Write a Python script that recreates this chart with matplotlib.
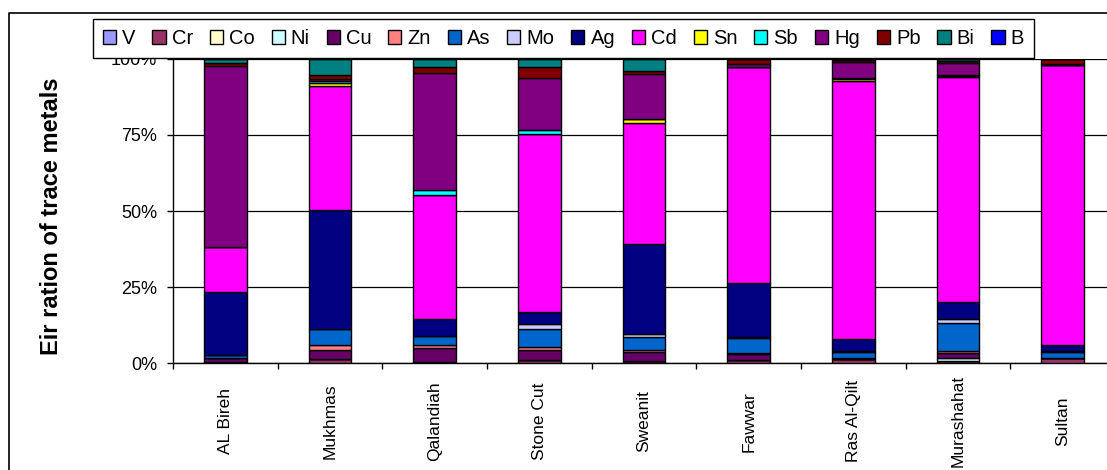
import matplotlib
matplotlib.use("Agg")
import matplotlib.pyplot as plt
from matplotlib.patches import Patch
from matplotlib.lines import Line2D
import numpy as np

plt.rcParams['font.family'] = ['Liberation Sans', 'DejaVu Sans']

sites = ["AL Bireh", "Mukhmas", "Qalandiah", "Stone Cut", "Sweanit",
         "Fawwar", "Ras Al-Qilt", "Murashahat", "Sultan"]

# share of each trace metal per site (%)
V  = [0.0,   0.0,  0.0,  0.0,  0.0,  0.0,  0.0,  0.0,  0.0]
Cr = [0.3,   1.2,  0.4,  1.0,  0.7,  1.0,  1.4,  0.5,  1.5]
Co = [0.0,   0.0,  0.0,  0.0,  0.0,  0.0,  0.0,  0.2,  0.0]
Ni = [0.0,   0.0,  0.0,  0.0,  0.0,  0.0,  0.0,  0.8,  0.0]
Cu = [1.2,   3.1,  4.4,  3.2,  2.8,  1.8,  0.0,  1.9,  0.0]
Zn = [0.2,   1.6,  1.0,  1.2,  0.9,  0.4,  0.3,  0.5,  0.2]
As = [0.9,   5.4,  3.0,  5.9,  4.0,  5.0,  1.9,  9.1,  1.9]
Mo = [0.0,   0.0,  0.0,  1.4,  1.0,  0.5,  0.5,  1.6,  0.5]
Ag = [20.85, 39.0, 5.6,  4.1,  29.8, 17.5, 3.7,  5.4,  1.9]
Cd = [14.6,  40.9, 40.9, 58.5, 39.8, 71.3, 85.1, 74.0, 92.0]
Sn = [0.0,   0.8,  0.0,  0.0,  1.4,  0.0,  0.4,  0.3,  0.0]
Sb = [0.0,   0.9,  1.6,  1.5,  0.0,  0.0,  0.4,  0.4,  0.0]
Hg = [59.65, 0.5,  38.4, 16.9, 14.6, 1.0,  5.4,  4.0,  0.5]
Pb = [0.9,   1.3,  2.2,  3.8,  1.0,  1.5,  0.5,  0.8,  1.5]
Bi = [1.4,   5.3,  2.5,  2.5,  4.0,  0.0,  0.4,  0.5,  0.0]
B  = [0.0,   0.0,  0.0,  0.0,  0.0,  0.0,  0.0,  0.0,  0.0]

metals = ["V", "Cr", "Co", "Ni", "Cu", "Zn", "As", "Mo",
          "Ag", "Cd", "Sn", "Sb", "Hg", "Pb", "Bi", "B"]
series = [V, Cr, Co, Ni, Cu, Zn, As, Mo, Ag, Cd, Sn, Sb, Hg, Pb, Bi, B]
colors = ["#9999FF", "#993366", "#FFFFCC", "#CCFFFF", "#660066", "#FF8080",
          "#0066CC", "#CCCCFF", "#000080", "#FF00FF", "#FFFF00", "#00FFFF",
          "#800080", "#800000", "#008080", "#0000FF"]

W, H = 1107, 470
fig = plt.figure(figsize=(W / 100, H / 100), dpi=100)
ax = fig.add_axes([173 / W, 107 / H, 942 / W, 304 / H])

data = np.array(series, dtype=float)
data = data / data.sum(axis=0)
x = np.arange(len(sites))
bottom = np.zeros(len(sites))
for name, vals, col in zip(metals, data, colors):
    ax.bar(x, vals, width=0.41, bottom=bottom, color=col,
           edgecolor="black", linewidth=1.0, zorder=3)
    bottom += vals

ax.set_xlim(-0.5, len(sites) - 0.5)
ax.set_ylim(0, 1)
ax.set_yticks([0, 0.25, 0.5, 0.75, 1.0])
ax.set_yticklabels(["0%", "25%", "50%", "75%", "100%"], fontsize=13)
ax.tick_params(axis="y", direction="out", length=4.5, width=1, pad=7)
ax.yaxis.grid(True, color="black", linewidth=0.9)
ax.set_axisbelow(True)

# category boundaries carry the tick marks, names sit at the centres
ax.set_xticks(np.arange(len(sites) + 1) - 0.5)
ax.set_xticklabels([])
ax.tick_params(axis="x", which="major", direction="out", length=4.5, width=1)
ax.set_xticks(x, minor=True)
ax.set_xticklabels(sites, minor=True, rotation=90, fontsize=12.5,
                   va="center", ha="center")
ax.tick_params(axis="x", which="minor", length=0, pad=42)

for s in ["top", "right"]:
    ax.spines[s].set_visible(False)
ax.spines["left"].set_linewidth(1.0)
ax.spines["bottom"].set_linewidth(1.0)

fig.text(52 / W, 1 - 216 / H, "Eir ration of trace metals", rotation=90,
         ha="center", va="center", fontsize=17, fontweight="bold")

handles = [Patch(facecolor=c, edgecolor="black", linewidth=1.0) for c in colors]
leg = ax.legend(handles, metals, ncol=16, loc="upper left",
                bbox_to_anchor=(93 / W, 1 - 19 / H),
                bbox_transform=fig.transFigure, fontsize=14.5,
                frameon=True, fancybox=False, framealpha=1,
                edgecolor="black", handlelength=0.65, handleheight=0.65,
                handletextpad=0.3, columnspacing=0.84, borderpad=0.5,
                borderaxespad=0)
leg.get_frame().set_linewidth(1.0)
leg.set_zorder(10)

# outer chart frame
fig.add_artist(Line2D([9 / W, 9 / W, 1.0], [0.0, 1 - 13 / H, 1 - 13 / H],
                      transform=fig.transFigure, color="black", linewidth=1.2))

fig.savefig("out.png", dpi=100)
